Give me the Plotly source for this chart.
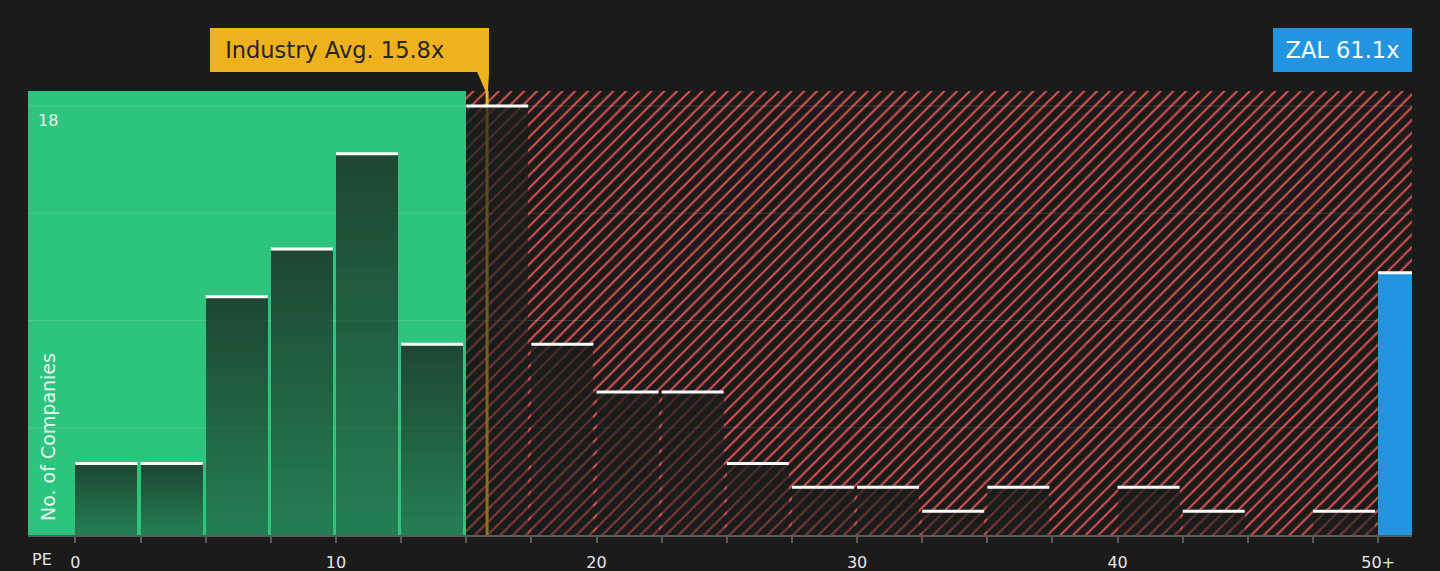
import plotly.graph_objects as go

# PE histogram (bins of 2.5x)
bin_starts = [0, 2.5, 5, 7.5, 10, 12.5, 15, 17.5, 20, 22.5,
              25, 27.5, 30, 32.5, 35, 37.5, 40, 42.5, 45, 47.5]
counts = [3, 3, 10, 12, 16, 8, 18, 8, 6, 6,
          3, 2, 2, 1, 2, 0, 2, 1, 0, 1]

company = 'ZAL'
company_pe = 61.1
company_bin = 50          # shown in the "50+" bin
company_count = 11

industry_avg = 15.8
fair_limit = 15           # green zone ends here

x_tick_vals = [0, 10, 20, 30, 40, 50]
x_tick_text = ['0', '10', '20', '30', '40', '50+']
y_grid_vals = [4.5, 9, 13.5, 18]
y_label_vals = [18]

x_range = [-1.82, 51.3]
y_max = 18.63
bar_w = 2.38

bg = '#1b1b1b'
green = '#2dc57d'
red = '#d9524e'
blue = '#2394e0'
yellow = '#efb21c'
font = 'DejaVu Sans'

fig = go.Figure()

# background zones
fig.add_trace(go.Bar(x=[x_range[0]], y=[y_max], offset=0, width=[fair_limit - x_range[0]],
                     marker=dict(color=green, line_width=0), hoverinfo='skip'))
fig.add_trace(go.Bar(x=[fair_limit], y=[y_max], offset=0, width=[x_range[1] - fair_limit],
                     marker=dict(color=bg, line_width=0,
                                 pattern=dict(shape='/', fgcolor=red, bgcolor=bg, fgopacity=1,
                                              size=9, solidity=0.22)),
                     hoverinfo='skip'))

# gridlines + industry average line (above zones, below bars)
gx, gy = [], []
for v in y_grid_vals:
    gx += [x_range[0], x_range[1], None]
    gy += [v, v, None]
fig.add_trace(go.Scatter(x=gx, y=gy, mode='lines', xaxis='x2', yaxis='y2',
                         line=dict(color='rgba(255,255,255,0.13)', width=1), hoverinfo='skip'))
fig.add_trace(go.Scatter(x=[industry_avg, industry_avg], y=[0, y_max], mode='lines',
                         xaxis='x2', yaxis='y2', line=dict(color=yellow, width=3),
                         hoverinfo='skip'))

# histogram bars, stacked slices to fake the vertical gradient
n_slices = 30
for k in range(n_slices):
    a = 0.42 + 0.34 * (k + 0.5) / n_slices
    fig.add_trace(go.Bar(x=bin_starts, y=[c / n_slices for c in counts], offset=0, width=bar_w,
                         xaxis='x3', yaxis='y3',
                         marker=dict(color=f'rgba(26,30,28,{a:.3f})', line_width=0),
                         hoverinfo='skip'))

fig.add_trace(go.Bar(x=[company_bin], y=[company_count], offset=0, width=bar_w,
                     xaxis='x3', yaxis='y3', marker=dict(color=blue, line_width=0)))

# white caps
cx, cy = [], []
for s, c in zip(bin_starts + [company_bin], counts + [company_count]):
    if c > 0:
        cx += [s, s + bar_w, None]
        cy += [c, c, None]
fig.add_trace(go.Scatter(x=cx, y=cy, mode='lines', xaxis='x3', yaxis='y3',
                         line=dict(color='white', width=3), hoverinfo='skip'))

edges = bin_starts + [company_bin]
edge_text = [x_tick_text[x_tick_vals.index(e)] if e in x_tick_vals else '' for e in edges]

fig.update_layout(
    width=1440, height=571,
    margin=dict(l=28, r=28, t=91, b=36, autoexpand=False),
    paper_bgcolor=bg, plot_bgcolor=bg,
    barmode='stack', bargap=0,
    showlegend=False,
    font=dict(family=font, color='#e6e6e6', size=16),
    xaxis=dict(range=x_range, tickvals=edges, ticktext=edge_text, ticks='outside',
               ticklen=6, tickwidth=1.5, tickcolor='#5a5a5a', showline=True,
               linecolor='#5a5a5a', linewidth=2, showgrid=False, zeroline=False,
               automargin=False, ticklabelstandoff=6,
               tickfont=dict(size=16, color='#e6e6e6')),
    yaxis=dict(range=[0, y_max], showgrid=False, zeroline=False, showline=False,
               showticklabels=False, ticks='', automargin=False),
    xaxis2=dict(overlaying='x', range=x_range, visible=False),
    yaxis2=dict(overlaying='y', range=[0, y_max], visible=False),
    xaxis3=dict(overlaying='x', range=x_range, visible=False),
    yaxis3=dict(overlaying='y', range=[0, y_max], visible=False),
)

for v in y_label_vals:
    fig.add_annotation(text=str(v), x=0, xref='paper', xanchor='left', xshift=8,
                       y=v, yref='y', yanchor='middle', yshift=-14, showarrow=False,
                       font=dict(family=font, size=16, color='rgba(255,255,255,0.9)'))

top_y = (535 - 72) / 444
tip_y = (535 - 92) / 444
fig.add_annotation(text=f' Industry Avg. {industry_avg}x', x=industry_avg, xref='x',
                   xanchor='right', xshift=2, y=top_y, yref='paper', yanchor='bottom',
                   showarrow=False, bgcolor=yellow, borderwidth=0, borderpad=8,
                   width=263, height=28, align='left',
                   font=dict(family=font, size=22.5, color='#262626'))
fig.add_annotation(text=f'{company} {company_pe}x', x=1, xref='paper', xanchor='right',
                   y=top_y, yref='paper', yanchor='bottom', showarrow=False,
                   bgcolor=blue, borderwidth=0, borderpad=8, width=123, height=28,
                   align='center', font=dict(family=font, size=22.5, color='white'))
fig.add_annotation(text='PE', x=(42 - 28) / 1384, xref='paper', xanchor='center',
                   y=-(570 - 535) / 444, yref='paper', yanchor='bottom', showarrow=False,
                   borderpad=0, font=dict(family=font, size=16, color='#e6e6e6'))
fig.add_annotation(text='No. of Companies', textangle=-90, x=(48 - 28) / 1384, xref='paper',
                   xanchor='center', y=12 / 444, yref='paper', yanchor='bottom',
                   showarrow=False, font=dict(family=font, size=19, color='rgba(255,255,255,0.9)'))

# pointer under the industry box
fig.add_shape(type='path', xref='x', yref='paper', fillcolor=yellow, line_width=0,
              path=(f'M {industry_avg - 0.38},{top_y} L {industry_avg + 0.08},{top_y} '
                    f'L {industry_avg + 0.03},{tip_y} L {industry_avg - 0.05},{tip_y} Z'))

fig.write_html('out.html', config={'displayModeBar': False},
               post_script="document.body.style.margin='0';")
